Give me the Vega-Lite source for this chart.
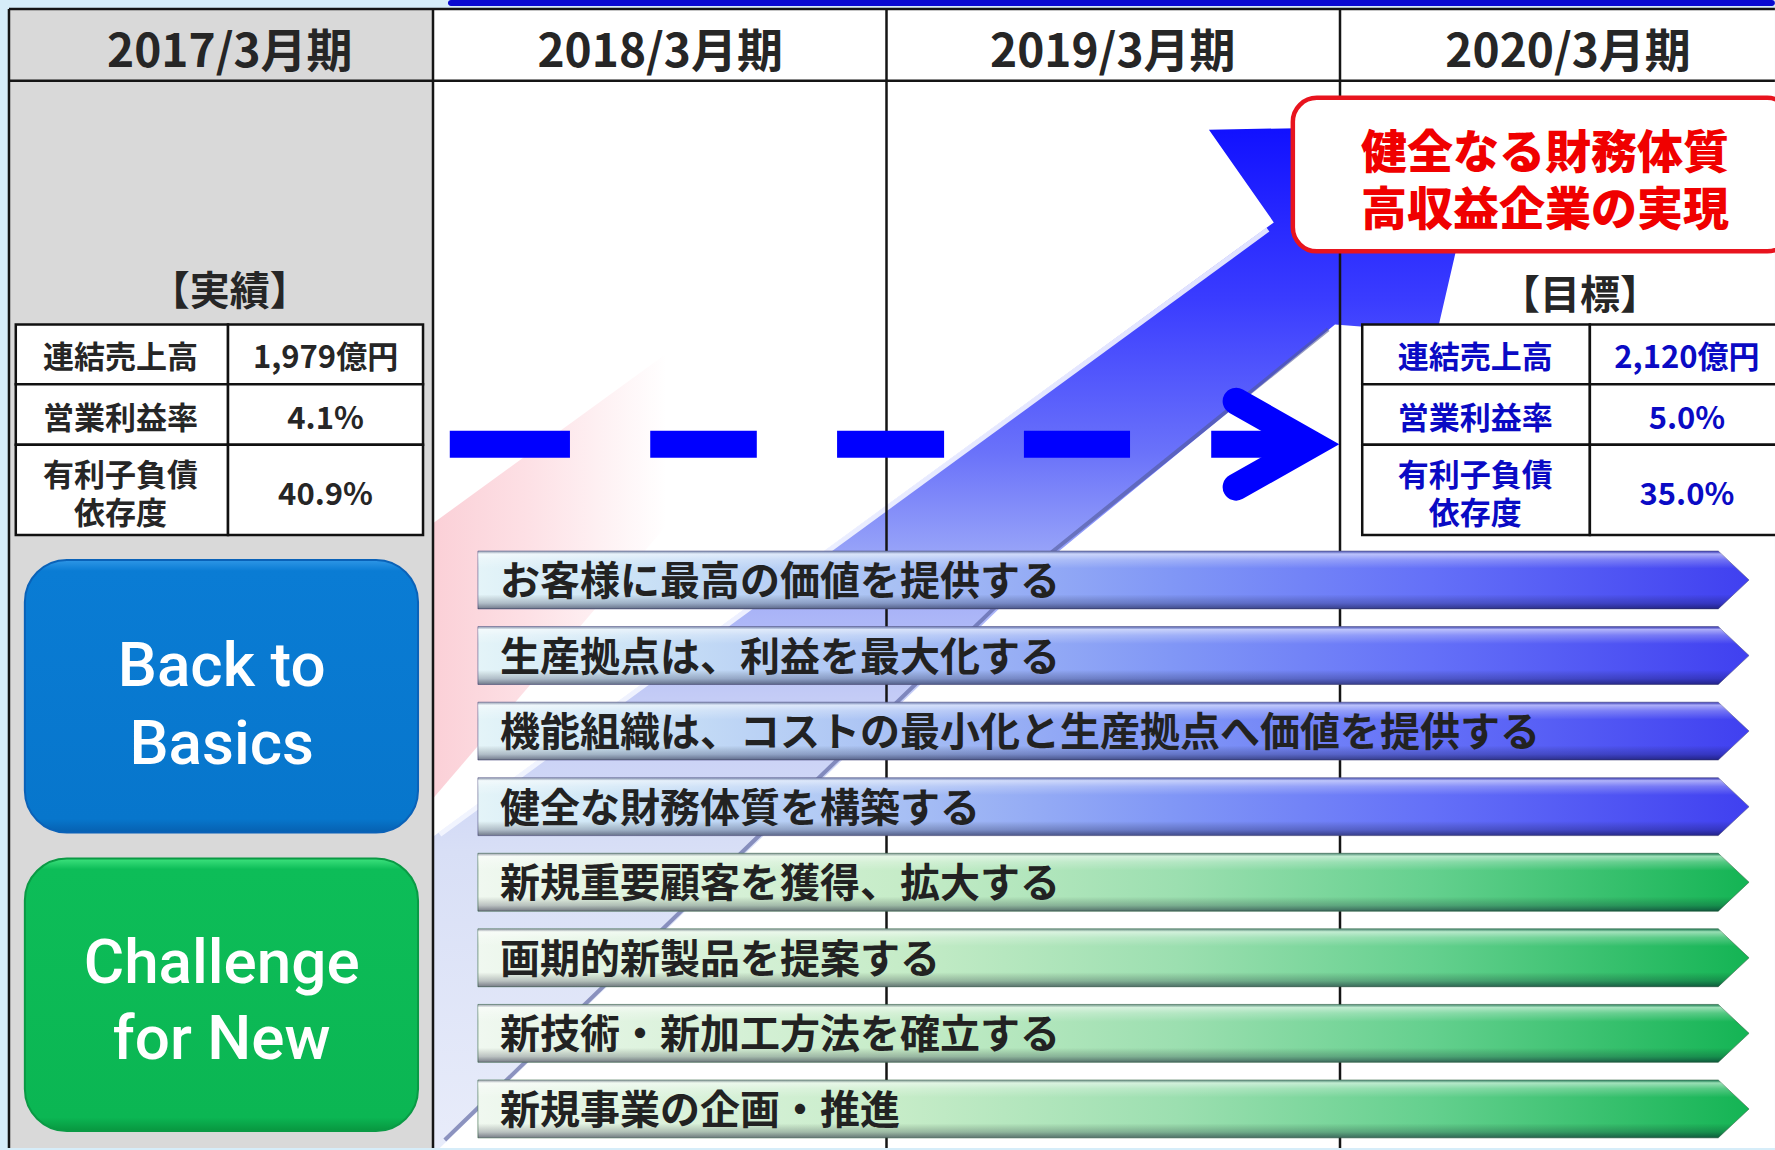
{
"$schema":"https://vega.github.io/schema/vega-lite/v6.json",
"width":1775,"height":1150,
"autosize":{"type":"fit","contains":"padding"},
"padding":0,
"background":"#d6edf9",
"config":{"view":{"stroke":null},"font":"Noto Sans CJK JP"},
"encoding":{
 "x":{"field":"x","type":"quantitative","scale":{"domain":[-0.9548,2.9592],"nice":false,"zero":false},"axis":null},
 "y":{"field":"y","type":"quantitative","scale":{"domain":[-6.675,8.517],"nice":false,"zero":false,"reverse":true},"axis":null}
},
"datasets":{
 "sheet":[{"x":0,"x2":2.959,"y":-6.556,"y2":8.517}],
 "actualCol":[{"x":-0.935,"x2":0,"y":-6.556,"y2":8.517}],
 "topBar":[{"x":0.033,"x2":2.959,"y":-6.675,"y2":-6.596}],
 "pinkBand":[{"i":1,"x":0,"y":0.25},{"i":2,"x":0.822,"y":-3.336},{"i":3,"x":1.03,"y":-3.336},{"i":4,"x":0,"y":3.893}],
 "growthArrow":[{"i":1,"x":-0.117,"y":4.91},{"i":2,"x":0.86,"y":0.63},{"i":3,"x":1.854,"y":-3.732},{"i":4,"x":1.711,"y":-4.958},{"i":5,"x":2.32,"y":-5.024},{"i":6,"x":2.214,"y":-2.276},{"i":7,"x":1.989,"y":-2.381},{"i":8,"x":1.378,"y":0.63},{"i":9,"x":0.015,"y":8.517},{"i":10,"x":-0.117,"y":8.517}],
 "arrowHighlight":[{"i":1,"x":0.015,"y":4.368},{"i":2,"x":1.841,"y":-3.637}],
 "arrowShade":[{"i":1,"x":0.026,"y":8.411},{"i":2,"x":1.365,"y":0.63},{"i":3,"x":1.974,"y":-2.316}],
 "dashes":[{"x":0.037,"x2":0.302,"y":-0.797},{"x":0.479,"x2":0.714,"y":-0.797},{"x":0.891,"x2":1.127,"y":-0.797},{"x":1.303,"x2":1.537,"y":-0.797},{"x":1.716,"x2":1.938,"y":-0.797}],
 "chevron":[{"i":1,"x":1.771,"y":-1.365},{"i":2,"x":1.938,"y":-0.797},{"i":3,"x":1.771,"y":-0.229}],
 "vlines":[{"x":-0.935,"y":-6.556,"y2":8.517},{"x":0,"y":-6.556,"y2":8.517},{"x":1,"y":-6.556,"y2":8.517},{"x":2,"y":-6.556,"y2":8.517}],
 "hlines":[{"x":-0.935,"x2":2.959,"y":-6.556},{"x":-0.935,"x2":2.959,"y":-5.605}],
 "periods":[{"t":"2017/3月期","x":-0.448,"y":-6.028},{"t":"2018/3月期","x":0.501,"y":-6.028},{"t":"2019/3月期","x":1.499,"y":-6.028},{"t":"2020/3月期","x":2.503,"y":-6.028}],
 "captions":[{"t":"【実績】","x":-0.448,"y":-2.843},{"t":"【目標】","x":2.529,"y":-2.781}],
 "tableCells":[
  {"x":-0.92,"x2":-0.452,"y":-2.382,"y2":-1.59},{"x":-0.452,"x2":-0.022,"y":-2.382,"y2":-1.59},
  {"x":-0.92,"x2":-0.452,"y":-1.59,"y2":-0.79},{"x":-0.452,"x2":-0.022,"y":-1.59,"y2":-0.79},
  {"x":-0.92,"x2":-0.452,"y":-0.79,"y2":0.406},{"x":-0.452,"x2":-0.022,"y":-0.79,"y2":0.406},
  {"x":2.049,"x2":2.551,"y":-2.382,"y2":-1.59},{"x":2.551,"x2":2.995,"y":-2.382,"y2":-1.59},
  {"x":2.049,"x2":2.551,"y":-1.59,"y2":-0.79},{"x":2.551,"x2":2.995,"y":-1.59,"y2":-0.79},
  {"x":2.049,"x2":2.551,"y":-0.79,"y2":0.406},{"x":2.551,"x2":2.995,"y":-0.79,"y2":0.406}],
 "actualText":[{"t":"連結売上高","x":-0.689,"y":-1.96},{"t":"1,979億円","x":-0.237,"y":-1.96},{"t":"営業利益率","x":-0.689,"y":-1.154},{"t":"4.1%","x":-0.237,"y":-1.154},{"t":"有利子負債","x":-0.689,"y":-0.4},{"t":"依存度","x":-0.689,"y":0.102},{"t":"40.9%","x":-0.237,"y":-0.149}],
 "targetText":[{"t":"連結売上高","x":2.298,"y":-1.96},{"t":"2,120億円","x":2.765,"y":-1.96},{"t":"営業利益率","x":2.298,"y":-1.154},{"t":"5.0%","x":2.765,"y":-1.154},{"t":"有利子負債","x":2.298,"y":-0.4},{"t":"依存度","x":2.298,"y":0.102},{"t":"35.0%","x":2.765,"y":-0.149}],
 "goalBox":[{"x":1.896,"x2":2.995,"y":-5.381,"y2":-3.349}],
 "goalText":[{"t":"健全なる財務体質","x":2.452,"y":-4.694},{"t":"高収益企業の実現","x":2.452,"y":-3.93}],
 "bars":[
  {"rank":1,"pillar":"basics","x":0.099,"y":0.617,"y2":1.383},{"rank":1,"pillar":"basics","x":2.834,"y":0.617,"y2":1.383},{"rank":1,"pillar":"basics","x":2.902,"y":1,"y2":1},
  {"rank":2,"pillar":"basics","x":0.099,"y":1.617,"y2":2.383},{"rank":2,"pillar":"basics","x":2.834,"y":1.617,"y2":2.383},{"rank":2,"pillar":"basics","x":2.902,"y":2,"y2":2},
  {"rank":3,"pillar":"basics","x":0.099,"y":2.617,"y2":3.383},{"rank":3,"pillar":"basics","x":2.834,"y":2.617,"y2":3.383},{"rank":3,"pillar":"basics","x":2.902,"y":3,"y2":3},
  {"rank":4,"pillar":"basics","x":0.099,"y":3.617,"y2":4.383},{"rank":4,"pillar":"basics","x":2.834,"y":3.617,"y2":4.383},{"rank":4,"pillar":"basics","x":2.902,"y":4,"y2":4},
  {"rank":5,"pillar":"new","x":0.099,"y":4.617,"y2":5.383},{"rank":5,"pillar":"new","x":2.834,"y":4.617,"y2":5.383},{"rank":5,"pillar":"new","x":2.902,"y":5,"y2":5},
  {"rank":6,"pillar":"new","x":0.099,"y":5.617,"y2":6.383},{"rank":6,"pillar":"new","x":2.834,"y":5.617,"y2":6.383},{"rank":6,"pillar":"new","x":2.902,"y":6,"y2":6},
  {"rank":7,"pillar":"new","x":0.099,"y":6.617,"y2":7.383},{"rank":7,"pillar":"new","x":2.834,"y":6.617,"y2":7.383},{"rank":7,"pillar":"new","x":2.902,"y":7,"y2":7},
  {"rank":8,"pillar":"new","x":0.099,"y":7.617,"y2":8.383},{"rank":8,"pillar":"new","x":2.834,"y":7.617,"y2":8.383},{"rank":8,"pillar":"new","x":2.902,"y":8,"y2":8}],
 "barLabels":[
  {"rank":1,"t":"お客様に最高の価値を提供する","x":0.148,"y":1},
  {"rank":2,"t":"生産拠点は、利益を最大化する","x":0.148,"y":2},
  {"rank":3,"t":"機能組織は、コストの最小化と生産拠点へ価値を提供する","x":0.148,"y":3},
  {"rank":4,"t":"健全な財務体質を構築する","x":0.148,"y":4},
  {"rank":5,"t":"新規重要顧客を獲得、拡大する","x":0.148,"y":5},
  {"rank":6,"t":"画期的新製品を提案する","x":0.148,"y":6},
  {"rank":7,"t":"新技術・新加工方法を確立する","x":0.148,"y":7},
  {"rank":8,"t":"新規事業の企画・推進","x":0.148,"y":8}],
 "pillarBasics":[{"pillar":"Back to Basics","x":-0.9,"x2":-0.033,"y":0.736,"y2":4.342}],
 "pillarNew":[{"pillar":"Challenge for New","x":-0.9,"x2":-0.033,"y":4.685,"y2":8.292}],
 "pillarText":[{"t":"Back to","x":-0.466,"y":2.096},{"t":"Basics","x":-0.466,"y":3.126},{"t":"Challenge","x":-0.466,"y":6.033},{"t":"for New","x":-0.466,"y":7.037}]
},
"layer":[
 {"data":{"name":"sheet"},"mark":{"type":"rect","fill":"#ffffff"},"encoding":{"x2":{"field":"x2"},"y2":{"field":"y2"}}},
 {"data":{"name":"pinkBand"},"mark":{"type":"line","filled":true,"strokeOpacity":0,"fill":{"gradient":"linear","x1":0,"y1":0,"x2":1,"y2":0,"stops":[{"offset":0,"color":"#fbd0d7"},{"offset":0.2,"color":"#fde0e5"},{"offset":0.5,"color":"#ffffff"},{"offset":1,"color":"#ffffff"}]}},"encoding":{"order":{"field":"i","type":"quantitative"}}},
 {"data":{"name":"growthArrow"},"mark":{"type":"line","filled":true,"strokeOpacity":0,"fill":{"gradient":"linear","x1":0,"y1":0,"x2":0,"y2":1,"stops":[{"offset":0,"color":"#1010ff"},{"offset":0.17,"color":"#3a3cff"},{"offset":0.32,"color":"#6a72fa"},{"offset":0.42,"color":"#98a4f8"},{"offset":0.56,"color":"#c4ccf6"},{"offset":0.71,"color":"#d8dff6"},{"offset":1,"color":"#e8ecfa"}]}},"encoding":{"order":{"field":"i","type":"quantitative"}}},
 {"data":{"name":"arrowHighlight"},"mark":{"type":"line","stroke":"#f4f6ff","strokeWidth":5,"opacity":0.9},"encoding":{"order":{"field":"i","type":"quantitative"}}},
 {"data":{"name":"arrowShade"},"mark":{"type":"line","stroke":"#505898","strokeWidth":4,"opacity":0.6},"encoding":{"order":{"field":"i","type":"quantitative"}}},
 {"data":{"name":"actualCol"},"mark":{"type":"rect","fill":"#d9d9d9"},"encoding":{"x2":{"field":"x2"},"y2":{"field":"y2"}}},
 {"data":{"name":"topBar"},"mark":{"type":"rect","fill":"#0a0ad0","cornerRadius":3},"encoding":{"x2":{"field":"x2"},"y2":{"field":"y2"}}},
 {"data":{"name":"vlines"},"mark":{"type":"rule","stroke":"#151515","strokeWidth":2.5},"encoding":{"y2":{"field":"y2"}}},
 {"data":{"name":"hlines"},"mark":{"type":"rule","stroke":"#151515","strokeWidth":2.5,"clip":true},"encoding":{"x2":{"field":"x2"}}},
 {"data":{"name":"dashes"},"mark":{"type":"rule","stroke":"#0000ff","strokeWidth":27,"strokeCap":"butt"},"encoding":{"x2":{"field":"x2"}}},
 {"data":{"name":"chevron"},"mark":{"type":"line","stroke":"#0000ff","strokeWidth":27,"strokeCap":"round","strokeJoin":"miter"},"encoding":{"order":{"field":"i","type":"quantitative"}}},
 {"data":{"name":"tableCells"},"mark":{"type":"rect","fill":"#ffffff","stroke":"#111111","strokeWidth":2.5,"clip":true},"encoding":{"x2":{"field":"x2"},"y2":{"field":"y2"}}},
 {"data":{"name":"actualText"},"mark":{"type":"text","fontSize":31,"fontWeight":"bold","fill":"#262626","align":"center","baseline":"middle","dy":3},"encoding":{"text":{"field":"t","type":"nominal"}}},
 {"data":{"name":"targetText"},"mark":{"type":"text","fontSize":31,"fontWeight":"bold","fill":"#0a0ac4","align":"center","baseline":"middle","dy":3},"encoding":{"text":{"field":"t","type":"nominal"}}},
 {"data":{"name":"periods"},"mark":{"type":"text","fontSize":46,"fontWeight":"bold","fill":"#262626","align":"center","baseline":"middle","dy":4},"encoding":{"text":{"field":"t","type":"nominal"}}},
 {"data":{"name":"captions"},"mark":{"type":"text","fontSize":40,"fontWeight":"bold","fill":"#262626","align":"center","baseline":"middle","dy":3},"encoding":{"text":{"field":"t","type":"nominal"}}},
 {"data":{"name":"goalBox"},"mark":{"type":"rect","fill":"#ffffff","stroke":"#e8141e","strokeWidth":4.5,"cornerRadius":24,"clip":true},"encoding":{"x2":{"field":"x2"},"y2":{"field":"y2"}}},
 {"data":{"name":"goalText"},"mark":{"type":"text","fontSize":46,"fontWeight":900,"fill":"#f00000","align":"center","baseline":"middle","dy":4},"encoding":{"text":{"field":"t","type":"nominal"}}},
 {"data":{"name":"bars"},"transform":[{"filter":"datum.pillar === 'basics'"}],"mark":{"type":"area","stroke":"#5a5a8a","strokeWidth":1,"strokeOpacity":0.6,"fill":{"gradient":"linear","x1":0,"y1":0,"x2":1,"y2":0,"stops":[{"offset":0,"color":"#e4f4f8"},{"offset":0.1,"color":"#cfe6f6"},{"offset":0.33,"color":"#a8c0f4"},{"offset":0.55,"color":"#8096f6"},{"offset":0.75,"color":"#6470f8"},{"offset":1,"color":"#4040f0"}]}},"encoding":{"y2":{"field":"y2"},"detail":{"field":"rank","type":"nominal"}}},
 {"data":{"name":"bars"},"transform":[{"filter":"datum.pillar === 'new'"}],"mark":{"type":"area","stroke":"#3a6a4a","strokeWidth":1,"strokeOpacity":0.6,"fill":{"gradient":"linear","x1":0,"y1":0,"x2":1,"y2":0,"stops":[{"offset":0,"color":"#f0f8f0"},{"offset":0.1,"color":"#e2f4e2"},{"offset":0.33,"color":"#c6ecc8"},{"offset":0.55,"color":"#9cdfb0"},{"offset":0.75,"color":"#64d08e"},{"offset":1,"color":"#14b454"}]}},"encoding":{"y2":{"field":"y2"},"detail":{"field":"rank","type":"nominal"}}},
 {"data":{"name":"bars"},"mark":{"type":"area","fill":{"gradient":"linear","x1":0,"y1":0,"x2":0,"y2":1,"stops":[{"offset":0,"color":"rgba(40,40,80,0.35)"},{"offset":0.05,"color":"rgba(255,255,255,0.55)"},{"offset":0.15,"color":"rgba(255,255,255,0.25)"},{"offset":0.3,"color":"rgba(255,255,255,0)"},{"offset":0.75,"color":"rgba(0,0,0,0)"},{"offset":0.9,"color":"rgba(0,0,30,0.22)"},{"offset":1,"color":"rgba(0,0,30,0.5)"}]}},"encoding":{"y2":{"field":"y2"},"detail":{"field":"rank","type":"nominal"}}},
 {"data":{"name":"barLabels"},"mark":{"type":"text","fontSize":40,"fontWeight":"bold","fill":"#222222","align":"left","baseline":"middle","dy":3},"encoding":{"text":{"field":"t","type":"nominal"}}},
 {"data":{"name":"pillarBasics"},"mark":{"type":"rect","cornerRadius":42,"stroke":"#0a62b8","strokeWidth":2,"fill":{"gradient":"linear","x1":0,"y1":0,"x2":0,"y2":1,"stops":[{"offset":0,"color":"#2e96e6"},{"offset":0.04,"color":"#0a7cd4"},{"offset":0.95,"color":"#0776cc"},{"offset":1,"color":"#0660b0"}]}},"encoding":{"x2":{"field":"x2"},"y2":{"field":"y2"}}},
 {"data":{"name":"pillarNew"},"mark":{"type":"rect","cornerRadius":42,"stroke":"#0a9a45","strokeWidth":2,"fill":{"gradient":"linear","x1":0,"y1":0,"x2":0,"y2":1,"stops":[{"offset":0,"color":"#3ee27e"},{"offset":0.04,"color":"#0dbd58"},{"offset":0.95,"color":"#0bb653"},{"offset":1,"color":"#08963f"}]}},"encoding":{"x2":{"field":"x2"},"y2":{"field":"y2"}}},
 {"data":{"name":"pillarText"},"mark":{"type":"text","font":"Roboto","fontWeight":500,"fontSize":62,"fill":"#ffffff","align":"center","baseline":"middle","dy":4},"encoding":{"text":{"field":"t","type":"nominal"}}}
]
}
